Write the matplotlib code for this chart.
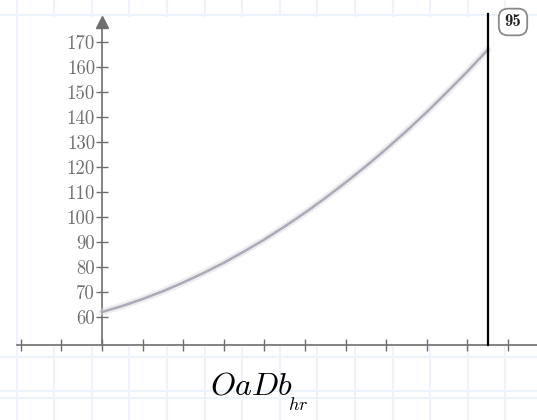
import matplotlib
matplotlib.use("Agg")
import matplotlib.pyplot as plt
from matplotlib.patches import Rectangle
import numpy as np

plt.rcParams["mathtext.fontset"] = "cm"

# data: OaDb over hours
hours = [0, 5, 10, 15, 20, 25, 30, 35, 40, 45, 50, 55, 60, 65, 70, 75, 80, 85, 90, 95]
oadb = [62.0, 64.4, 67.2, 70.3, 73.8, 77.6, 81.7, 86.2, 91.0, 96.2,
        101.7, 107.6, 113.8, 120.3, 127.2, 134.4, 142.0, 150.0, 158.2, 166.9]
marker_hour = 95
y_ticks = [60, 70, 80, 90, 100, 110, 120, 130, 140, 150, 160, 170]
x_ticks = [-20, -10, 0, 10, 20, 30, 40, 50, 60, 70, 80, 90, 100]

W, H, DPI = 537, 420, 100
fig = plt.figure(figsize=(W / DPI, H / DPI), dpi=DPI)

# worksheet grid in the background
bg = fig.add_axes([0, 0, 1, 1])
bg.set_xlim(0, W)
bg.set_ylim(H, 0)
bg.axis("off")
grid_col = "#edf3fa"
for gx in np.arange(16.5, W, 37.6):
    bg.axvline(gx, color=grid_col, lw=1.5, zorder=0)
for gy in [15, 357, 391, 398]:
    bg.axhline(gy, color=grid_col, lw=1.5, zorder=0)
bg.add_patch(Rectangle((18, 16.5), W - 18, 328, facecolor="white", edgecolor="none", zorder=1))

ax = fig.add_axes([0, 0, 1, 1])
ax.patch.set_alpha(0)
x0, ppx = 102.0, 4.06
ax.set_xlim((0 - x0) / ppx, (W - x0) / ppx)
ax.set_ylim(60 + (317 - H) / 2.5, 60 + 317 / 2.5)
x_axis_y = 60 + (317 - 345) / 2.5
y_top = 60 + (317 - 14) / 2.5

axis_col = "#6e6e6e"
for s in ["top", "right"]:
    ax.spines[s].set_visible(False)
ax.spines["left"].set_position(("data", 0))
ax.spines["bottom"].set_position(("data", x_axis_y))
ax.spines["left"].set_bounds(x_axis_y, y_top - 3)
ax.spines["bottom"].set_bounds((17 - x0) / ppx, (W - x0) / ppx)
for s in ["left", "bottom"]:
    ax.spines[s].set_color(axis_col)
    ax.spines[s].set_linewidth(1.2)

ax.set_yticks(y_ticks)
ax.set_yticklabels([str(v) for v in y_ticks], fontname="cmr10", fontsize=13.5, color="#707070")
ax.set_xticks(x_ticks)
ax.set_xticklabels([])
ax.tick_params(axis="both", direction="inout", length=8, width=1.0, color=axis_col, pad=1)

# arrow head on the y axis
ax.plot([0], [y_top - 3], marker="^", markersize=8, color=axis_col, clip_on=False, zorder=5)

# curve: soft halo plus core
ax.plot(hours, oadb, color="#dcdce2", lw=5, alpha=0.5, solid_capstyle="round", zorder=3)
ax.plot(hours, oadb, color="#a8a8b4", lw=1.8, alpha=0.95, zorder=4)

# marker line and its value
ax.plot([marker_hour, marker_hour], [x_axis_y, y_top], color="black", lw=1.6, zorder=5)
ax.text((513 - x0) / ppx, 60 + (317 - 22) / 2.5, str(marker_hour), fontname="cmb10",
        fontsize=12, ha="center", va="center", color="#222222",
        bbox=dict(boxstyle="round,pad=0.35,rounding_size=0.55", fc="white", ec="#8a8a8a", lw=1.3))

# axis label
fig.text(251 / W, 1 - 386 / H, r"$OaDb$", fontsize=23, ha="center", va="center", color="black")
fig.text(298 / W, 1 - 405 / H, r"$hr$", fontsize=13, ha="center", va="center", color="black")

fig.savefig("out.png", dpi=DPI)
